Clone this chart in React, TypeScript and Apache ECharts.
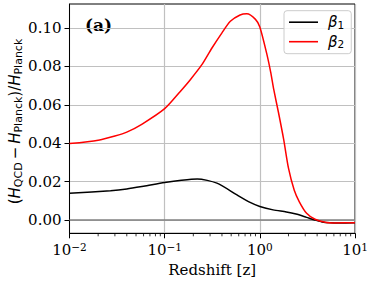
import React, { useEffect, useRef } from "react";
import * as echarts from "echarts";

// Redshift sample points
const redshiftB1 = [0.01, 0.027, 0.04, 0.06, 0.1, 0.15, 0.22, 0.354, 0.575, 0.79, 1.0, 1.38, 1.9, 2.4, 3.1, 3.7, 4.5, 5.5, 7, 10];
const beta1 = [0.0139, 0.0153, 0.0162, 0.0176, 0.0195, 0.0207, 0.0214, 0.0192, 0.0131, 0.0092, 0.0071, 0.0053, 0.0042, 0.0031, 0.0014, 0.0002, -0.001, -0.0014, -0.0015, -0.0014];

const redshiftB2 = [0.01, 0.02, 0.03, 0.04, 0.058, 0.1, 0.146, 0.186, 0.246, 0.314, 0.4, 0.49, 0.62, 0.73, 0.9, 1.0, 1.19, 1.3, 1.4, 1.57, 1.78, 2.0, 2.3, 2.6, 3.1, 3.8, 5.0, 6.0, 10];
const beta2 = [0.0398, 0.0416, 0.0438, 0.0458, 0.05, 0.058, 0.067, 0.0731, 0.0809, 0.0896, 0.0975, 0.1035, 0.1068, 0.1074, 0.1045, 0.1005, 0.086, 0.077, 0.068, 0.056, 0.042, 0.027, 0.0155, 0.0095, 0.0035, 0.0004, -0.0013, -0.0015, -0.0014];

const yTicks = [0, 0.02, 0.04, 0.06, 0.08, 0.1];
const xMinorTicks = [0.02, 0.03, 0.04, 0.05, 0.06, 0.07, 0.08, 0.09, 0.2, 0.3, 0.4, 0.5, 0.6, 0.7, 0.8, 0.9, 2, 3, 4, 5, 6, 7, 8, 9];
const seriesNames = ["β1", "β2"];

export default function App() {
  const ref = useRef<HTMLDivElement>(null);
  useEffect(() => {
    const chart = echarts.init(ref.current!, null, { renderer: "svg" });
    const serif = "DejaVu Serif";
    const sans = "DejaVu Sans";
    const option: any = {
      animation: false,
      backgroundColor: "#fff",
      grid: { show: true, borderColor: "#000", borderWidth: 1, left: 69.5, right: 18, top: 4, bottom: 51.7 },
      xAxis: {
        type: "log",
        logBase: 10,
        min: 0.01,
        max: 10,
        name: "Redshift [z]",
        nameLocation: "middle",
        nameGap: 27,
        nameTextStyle: { fontFamily: serif, fontSize: 15, color: "#000" },
        axisLine: { onZero: false, lineStyle: { color: "#000", width: 1 } },
        axisTick: { show: true, length: 5, lineStyle: { color: "#000", width: 1 } },
        splitLine: { show: true, lineStyle: { color: "#c0c0c0", width: 1.2 } },
        minorTick: { show: false },
        axisLabel: {
          margin: 8,
          color: "#000",
          formatter: (v: number) => {
            const e = Math.round(Math.log10(v));
            return `{b|10}{e|${e < 0 ? "−" : ""}${Math.abs(e)}}`;
          },
          rich: {
            b: { fontFamily: serif, fontSize: 15, lineHeight: 18, color: "#000" },
            e: { fontFamily: serif, fontSize: 10.5, lineHeight: 8, verticalAlign: "top", color: "#000" },
          },
        },
      },
      yAxis: {
        type: "value",
        min: -0.0069,
        max: 0.1125,
        axisLine: { show: true, lineStyle: { color: "#000", width: 1 } },
        axisTick: { show: true, length: 5, customValues: yTicks, lineStyle: { color: "#000", width: 1 } },
        splitLine: { show: true, lineStyle: { color: "#c0c0c0", width: 1.2 } },
        axisLabel: {
          customValues: yTicks,
          margin: 8,
          fontFamily: serif,
          fontSize: 15,
          color: "#000",
          formatter: (v: number) => v.toFixed(2),
        },
      },
      legend: {
        data: seriesNames.map((n) => ({ name: n, icon: "rect" })),
        orient: "vertical",
        left: 284,
        top: 10.7,
        itemWidth: 29,
        itemHeight: 1.6,
        itemGap: 4,
        padding: [4, 7, 4, 5],
        borderColor: "#cccccc",
        borderWidth: 1,
        borderRadius: 3,
        backgroundColor: "rgba(255,255,255,0.8)",
        formatter: (name: string) => `{b|β}{s|${name.slice(1)}}`,
        textStyle: {
          rich: {
            b: { fontFamily: sans, fontStyle: "italic", fontSize: 15, lineHeight: 16, color: "#000", padding: [0, 0, 0, 5] },
            s: { fontFamily: sans, fontSize: 10.5, lineHeight: 6, verticalAlign: "bottom", color: "#000" },
          },
        },
      },
      graphic: [
        {
          type: "text",
          left: 85,
          top: 16,
          style: { text: "(a)", fontFamily: serif, fontWeight: "bold", fontSize: 17, fill: "#000" },
        },
        {
          type: "text",
          x: 15,
          y: 121.5,
          rotation: Math.PI / 2,
          style: {
            text: "{p|(}{h|H}{s|QCD}{p|\u2009−\u2009}{h|H}{s|Planck}{p|)/}{h|H}{s|Planck}",
            align: "center",
            verticalAlign: "middle",
            rich: {
              p: { fontFamily: sans, fontSize: 15, lineHeight: 18, fill: "#000" },
              h: { fontFamily: sans, fontStyle: "italic", fontSize: 15, lineHeight: 18, fill: "#000" },
              s: { fontFamily: sans, fontSize: 11, lineHeight: 8, verticalAlign: "bottom", fill: "#000" },
            },
          },
        },
      ],
      series: [
        {
          type: "line",
          name: seriesNames[0],
          data: redshiftB1.map((z, i) => [z, beta1[i]]),
          showSymbol: false,
          smooth: 0.25,
          lineStyle: { color: "#000", width: 1.5 },
          itemStyle: { color: "#000" },
          z: 3,
          markLine: {
            silent: true,
            symbol: ["none", "none"],
            label: { show: false },
            lineStyle: { color: "#808080", width: 1.6, type: "solid" },
            data: [{ yAxis: 0 }],
            z: 2,
          },
        },
        {
          type: "line",
          name: seriesNames[1],
          data: redshiftB2.map((z, i) => [z, beta2[i]]),
          showSymbol: false,
          smooth: 0.25,
          lineStyle: { color: "#ff0000", width: 1.5 },
          itemStyle: { color: "#ff0000" },
          z: 4,
        },
        {
          type: "custom",
          name: "minor",
          silent: true,
          clip: false,
          data: xMinorTicks.map((v) => [v, 0]),
          renderItem: (params: any, api: any) => {
            const x = api.coord([api.value(0), 0])[0];
            const cs = params.coordSys;
            const yb = cs.y + cs.height;
            return {
              type: "line",
              shape: { x1: x, y1: yb, x2: x, y2: yb + 3 },
              style: { stroke: "#000", lineWidth: 0.8 },
            };
          },
        },
      ],
    };
    chart.setOption(option);
    return () => chart.dispose();
  }, []);
  return <div ref={ref} style={{ position: "absolute", left: 0, top: 0, width: 373, height: 285 }} />;
}
